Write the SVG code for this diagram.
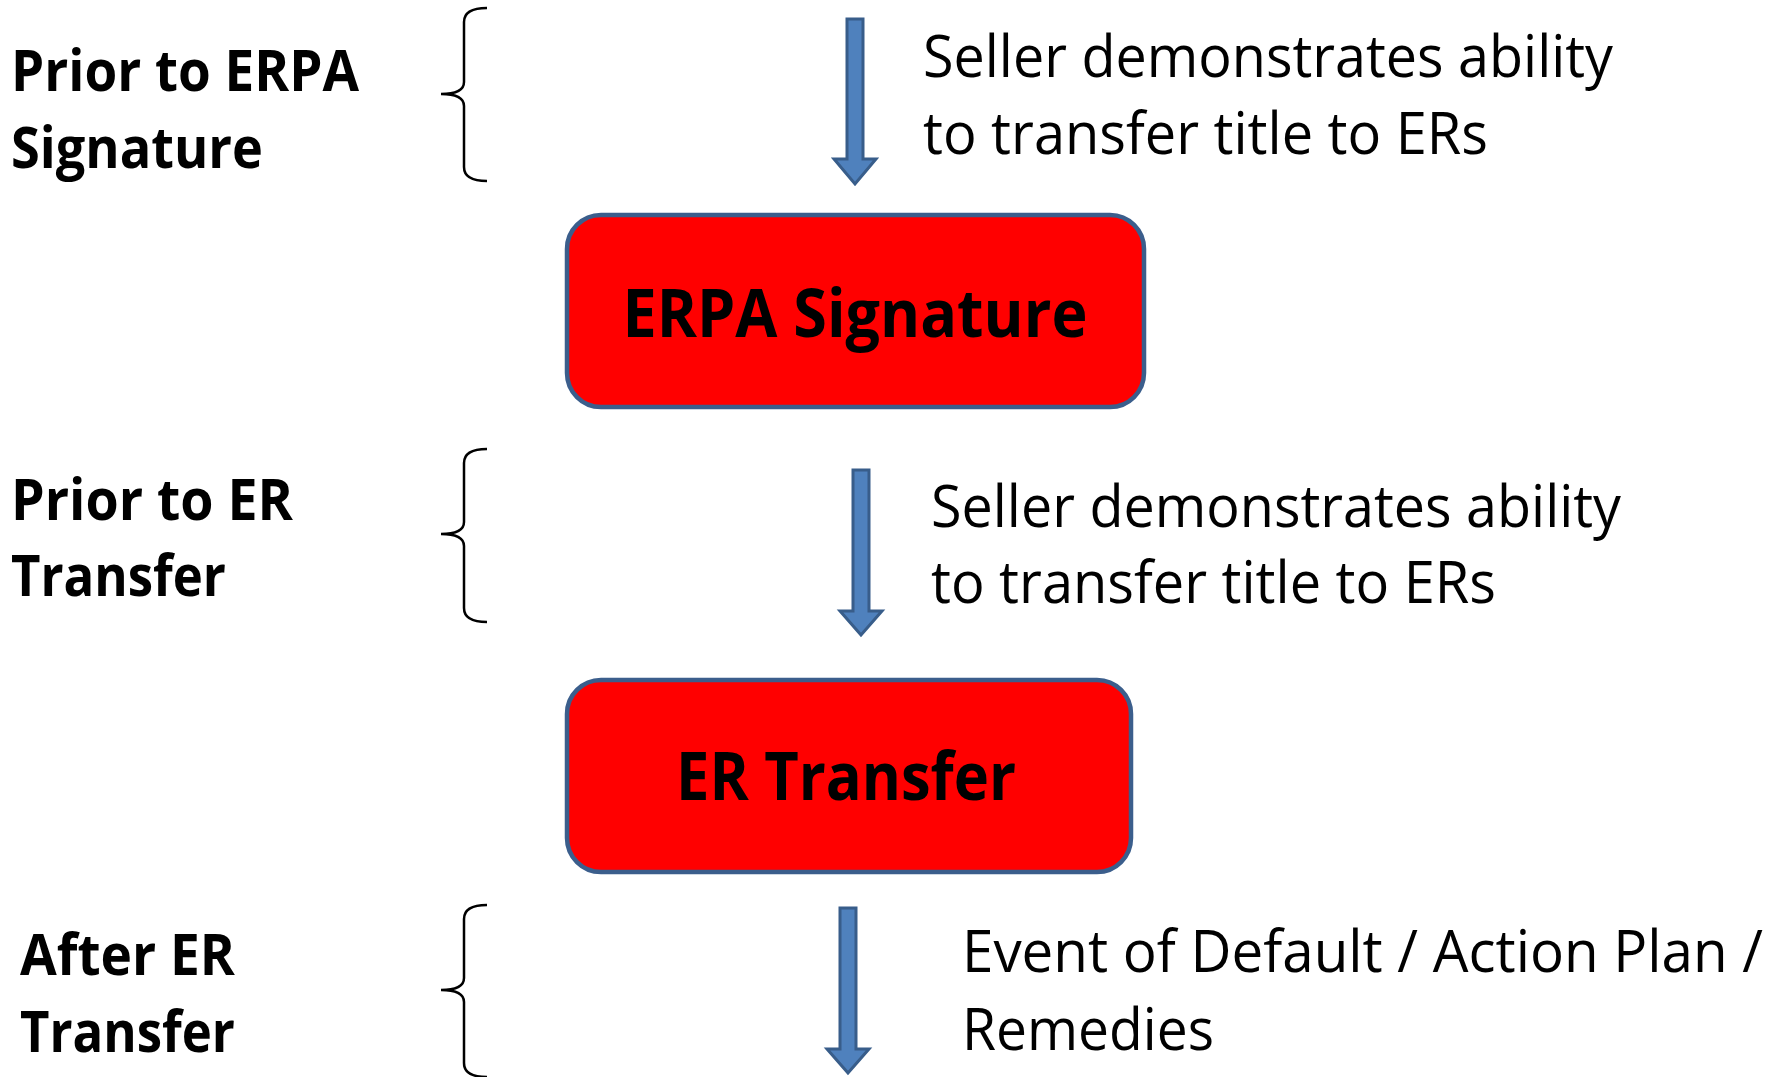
<svg xmlns="http://www.w3.org/2000/svg" width="1783" height="1077" viewBox="0 0 1783 1077">
<style>
.lbl{font-family:"Open Sans","Liberation Sans",sans-serif;font-weight:bold;font-size:58px;fill:#000}
.desc{font-family:"Open Sans","Liberation Sans",sans-serif;font-size:58px;fill:#000}
.boxt{font-family:"Open Sans","Liberation Sans",sans-serif;font-weight:bold;font-size:66px;fill:#000;text-anchor:middle}
.box{fill:#FF0000;stroke:#3B5E8C;stroke-width:4.5}
.brace{fill:none;stroke:#000;stroke-width:2.5}
.arr{fill:#4F81BD;stroke:#385D8A;stroke-width:3}
</style>
<rect width="1783" height="1077" fill="#fff"/>
<g id="label-prior-erpa">
<text class="lbl" x="11" y="91" textLength="348" lengthAdjust="spacingAndGlyphs">Prior to ERPA</text>
<text class="lbl" x="11" y="168" textLength="252" lengthAdjust="spacingAndGlyphs">Signature</text>
<path class="brace" d="M487,8 Q464,8 464,22 L464,82 Q464,94 441,94 Q464,94 464,106 L464,167 Q464,181 487,181"/>
</g>
<g id="label-prior-er">
<text class="lbl" x="11" y="520" textLength="282" lengthAdjust="spacingAndGlyphs">Prior to ER</text>
<text class="lbl" x="11" y="596" textLength="215" lengthAdjust="spacingAndGlyphs">Transfer</text>
<path class="brace" d="M487,449 Q464,449 464,463 L464,522 Q464,534 441,534 Q464,534 464,546 L464,608 Q464,622 487,622"/>
</g>
<g id="label-after-er">
<text class="lbl" x="20" y="975" textLength="215" lengthAdjust="spacingAndGlyphs">After ER</text>
<text class="lbl" x="20" y="1052" textLength="215" lengthAdjust="spacingAndGlyphs">Transfer</text>
<path class="brace" d="M487,905 Q464,905 464,919 L464,978 Q464,990 441,990 Q464,990 464,1002 L464,1063 Q464,1077 487,1077"/>
</g>
<g id="connectors">
<path class="arr" d="M847,19 H863 V159 H876 L855,184 L834,159 H847 Z"/>
<path class="arr" d="M853,470 H869 V611 H882 L861,635 L840,611 H853 Z"/>
<path class="arr" d="M840,908 H856 V1049 H869 L848,1073 L827,1049 H840 Z"/>
</g>
<g id="desc-1">
<text class="desc" x="923" y="77" textLength="690" lengthAdjust="spacingAndGlyphs">Seller demonstrates ability</text>
<text class="desc" x="923" y="154" textLength="565" lengthAdjust="spacingAndGlyphs">to transfer title to ERs</text>
</g>
<g id="node-erpa-signature">
<rect class="box" x="567" y="215" width="577" height="192" rx="34"/>
<text class="boxt" x="855" y="337" textLength="465" lengthAdjust="spacingAndGlyphs">ERPA Signature</text>
</g>
<g id="desc-2">
<text class="desc" x="931" y="527" textLength="690" lengthAdjust="spacingAndGlyphs">Seller demonstrates ability</text>
<text class="desc" x="931" y="603" textLength="565" lengthAdjust="spacingAndGlyphs">to transfer title to ERs</text>
</g>
<g id="node-er-transfer">
<rect class="box" x="567" y="680" width="564" height="192" rx="34"/>
<text class="boxt" x="846" y="800" textLength="340" lengthAdjust="spacingAndGlyphs">ER Transfer</text>
</g>
<g id="desc-3">
<text class="desc" x="962" y="972" textLength="801" lengthAdjust="spacingAndGlyphs">Event of Default / Action Plan /</text>
<text class="desc" x="962" y="1050" textLength="252" lengthAdjust="spacingAndGlyphs">Remedies</text>
</g>
</svg>
